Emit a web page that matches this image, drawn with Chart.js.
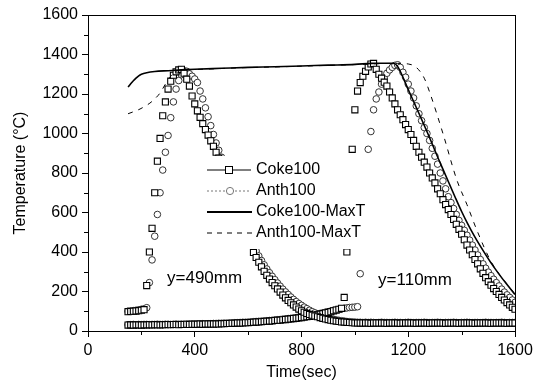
<!DOCTYPE html>
<html>
<head>
<meta charset="utf-8">
<script src="https://cdn.jsdelivr.net/npm/chart.js@4.4.0/dist/chart.umd.min.js"></script>
<style>
  body { margin: 0; background: #fff; }
  canvas { display: block; }
</style>
</head>
<body>
<canvas id="temperaturaGrafico" width="543" height="388"></canvas>
<script>
// tempo das medidas (s), comum aos 4 conjuntos de marcadores
const tempos = [
  150, 160, 170, 180, 190, 200, 210, 220, 230, 240,
  250, 260, 270, 280, 290, 300, 310, 320, 330, 340,
  350, 360, 370, 380, 390, 400, 410, 420, 430, 440,
  450, 460, 470, 480, 490, 500, 510, 520, 530, 540,
  550, 560, 570, 580, 590, 600, 610, 620, 630, 640,
  650, 660, 670, 680, 690, 700, 710, 720, 730, 740,
  750, 760, 770, 780, 790, 800, 810, 820, 830, 840,
  850, 860, 870, 880, 890, 900, 910, 920, 930, 940,
  950, 960, 970, 980, 990, 1000, 1010, 1020, 1030, 1040,
  1050, 1060, 1070, 1080, 1090, 1100, 1110, 1120, 1130, 1140,
  1150, 1160, 1170, 1180, 1190, 1200, 1210, 1220, 1230, 1240,
  1250, 1260, 1270, 1280, 1290, 1300, 1310, 1320, 1330, 1340,
  1350, 1360, 1370, 1380, 1390, 1400, 1410, 1420, 1430, 1440,
  1450, 1460, 1470, 1480, 1490, 1500, 1510, 1520, 1530, 1540,
  1550, 1560, 1570, 1580, 1590, 1600
];

// Coke100, y=490mm
const coke490 = [
  98, 99, 100, 101, 103, 105, 108, 230, 400, 520,
  700, 860, 975, 1090, 1160, 1225, 1265, 1295, 1312, 1322,
  1325, 1305, 1275, 1240, 1190, 1150, 1115, 1082, 1050, 1020,
  992, 963, 935, 905, 875, 840, 805, 770, 735, 700,
  662, 625, 588, 550, 512, 475, 437, 398, 372, 348,
  325, 302, 282, 263, 245, 229, 213, 197, 182, 168,
  155, 143, 132, 121, 111, 102, 95, 89, 84, 80,
  76, 72, 68, 64, 61, 58, 55, 52, 50, 48,
  46, 45, 44, 43, 42, 41, 41, 40, 40, 41,
  40, 39, 40, 40, 41, 40, 40, 39, 40, 41,
  40, 40, 39, 40, 40, 41, 40, 40, 39, 40,
  40, 41, 40, 39, 40, 40, 40, 41, 40, 39,
  40, 40, 41, 40, 39, 40, 40, 40, 41, 40,
  39, 40, 40, 41, 40, 40, 39, 40, 40, 40,
  41, 40, 39, 40, 40, 40
];

// Anth100, y=490mm
const anth490 = [
  100, 101, 103, 105, 107, 110, 112, 118, 245, 360,
  480, 590, 700, 815, 905, 990, 1080, 1160, 1225, 1268,
  1298, 1318, 1315, 1302, 1290, 1276, 1258, 1215, 1175, 1130,
  1085, 1040, 995, 952, 915, 880, 845, 810, 772, 735,
  698, 660, 622, 585, 548, 510, 472, 432, 405, 380,
  357, 335, 314, 295, 277, 260, 243, 227, 212, 198,
  185, 172, 160, 149, 139, 130, 121, 113, 105, 98,
  92, 86, 80, 75, 70, 66, 62, 59, 56, 54,
  52, 50, 48, 47, 46, 45, 44, 44, 43, 44,
  43, 44, 43, 42, 43, 44, 43, 43, 42, 43,
  44, 43, 43, 42, 43, 44, 43, 42, 43, 43,
  43, 44, 43, 42, 43, 43, 44, 43, 42, 43,
  43, 43, 44, 43, 42, 43, 43, 44, 43, 42,
  43, 43, 42, 43, 44, 43, 43, 42, 43, 43,
  44, 43, 42, 43, 43, 43
];

// Coke100, y=110mm
const coke110 = [
  30, 31, 30, 31, 31, 30, 31, 31, 32, 31,
  32, 32, 31, 32, 32, 33, 32, 33, 33, 32,
  33, 33, 34, 33, 34, 34, 34, 35, 34, 35,
  35, 36, 35, 36, 36, 37, 37, 38, 38, 39,
  39, 40, 40, 41, 42, 42, 43, 44, 45, 46,
  47, 48, 49, 50, 51, 53, 54, 55, 57, 58,
  60, 61, 63, 64, 66, 68, 70, 72, 74, 76,
  79, 82, 85, 88, 91, 94, 98, 102, 106, 110,
  115, 170, 400, 690, 920, 1120, 1215, 1258, 1290, 1315,
  1337, 1352, 1355, 1325, 1300, 1280, 1260, 1240, 1210, 1180,
  1150, 1120, 1095, 1070, 1045, 1020, 995, 965, 935, 905,
  880, 855, 830, 800, 775, 750, 720, 695, 665, 640,
  615, 590, 565, 540, 515, 490, 462, 435, 410, 386,
  362, 340, 315, 292, 270, 250, 232, 215, 200, 185,
  170, 157, 144, 132, 120, 110
];

// Anth100, y=110mm
const anth110 = [
  32, 32, 33, 32, 33, 32, 33, 33, 32, 33,
  33, 34, 33, 33, 34, 34, 33, 34, 35, 34,
  35, 34, 35, 35, 36, 35, 36, 36, 37, 36,
  37, 37, 38, 38, 39, 39, 40, 40, 41, 41,
  42, 42, 43, 44, 44, 45, 46, 47, 48, 49,
  50, 51, 52, 53, 54, 56, 57, 58, 60, 61,
  63, 64, 66, 68, 70, 72, 74, 76, 78, 80,
  83, 86, 89, 92, 95, 98, 101, 104, 107, 110,
  112, 115, 117, 119, 120, 121, 123, 290, 560, 800,
  920, 1010, 1120, 1175, 1210, 1250, 1280, 1305, 1322, 1335,
  1345, 1348, 1335, 1310, 1285, 1250, 1215, 1180, 1140, 1100,
  1065, 1030, 1000, 965, 925, 885, 845, 800, 760, 720,
  680, 650, 620, 590, 560, 535, 510, 485, 460, 435,
  410, 385, 362, 340, 318, 298, 280, 262, 245, 228,
  212, 197, 183, 170, 157, 145
];

// temperatura maxima do leito
const cokeMaxTempos = [150, 160, 170, 180, 190, 200, 220, 250, 300, 350, 400, 500, 600, 700, 800, 900, 1000, 1060, 1100, 1145, 1160, 1200, 1270, 1320, 1375, 1400, 1420, 1450, 1480, 1510, 1540, 1570, 1600];
const cokeMaxT = [1235, 1252, 1267, 1280, 1292, 1300, 1308, 1314, 1318, 1322, 1325, 1330, 1335, 1338, 1342, 1346, 1350, 1355, 1356, 1356, 1340, 1222, 1010, 850, 680, 605, 550, 475, 408, 345, 288, 235, 185];

const anthMaxTempos = [150, 170, 195, 232, 250, 270, 290, 310, 330, 350, 400, 500, 600, 700, 800, 900, 1000, 1100, 1160, 1200, 1230, 1260, 1280, 1330, 1382, 1420, 1457, 1506, 1540, 1570, 1600];
const anthMaxT = [1100, 1110, 1124, 1154, 1175, 1205, 1250, 1290, 1315, 1321, 1324, 1329, 1334, 1337, 1341, 1345, 1349, 1354, 1355, 1352, 1335, 1280, 1210, 1000, 765, 640, 511, 362, 290, 238, 188];

const legendaRotulos = ["Coke100", "Anth100", "Coke100-MaxT", "Anth100-MaxT"];
const posicaoRotulos = ["y=490mm", "y=110mm"];

function pontos(xs, ys) {
    return xs.map((x, i) => ({ x: x, y: ys[i] }));
}

const fonte = "'Liberation Sans', Arial, sans-serif";
Chart.defaults.font.family = fonte;
Chart.defaults.color = "#000";

const quadrado = {
    showLine: false,
    pointStyle: "rect",
    pointRadius: 4.3,
    pointBackgroundColor: "#fff",
    pointBorderColor: "#000",
    pointBorderWidth: 1.1
};
const circulo = {
    showLine: false,
    pointStyle: "circle",
    pointRadius: 3.3,
    pointBackgroundColor: "#fff",
    pointBorderColor: "#333",
    pointBorderWidth: 1
};

// legenda com fundo branco, textos y=..., moldura e ticks menores
const desenhos = {
    id: "desenhos",
    afterDatasetsDraw(chart) {
        const ctx = chart.ctx;
        const sx = chart.scales.x, sy = chart.scales.y;
        ctx.save();
        ctx.fillStyle = "#fff";
        ctx.fillRect(200, 156, 172, 93);

        ctx.font = "16px " + fonte;
        ctx.textBaseline = "middle";
        ctx.fillStyle = "#000";
        const ys = [170, 191, 212, 233];
        legendaRotulos.forEach((t, i) => ctx.fillText(t, 256, ys[i]));

        ctx.strokeStyle = "#000";
        ctx.lineWidth = 1;
        ctx.beginPath(); ctx.moveTo(207, ys[0]); ctx.lineTo(251, ys[0]); ctx.stroke();
        ctx.fillStyle = "#fff";
        ctx.fillRect(225.5, ys[0] - 3.5, 7, 7);
        ctx.strokeRect(225.5, ys[0] - 3.5, 7, 7);

        ctx.strokeStyle = "#777";
        ctx.setLineDash([2, 2]);
        ctx.beginPath(); ctx.moveTo(207, ys[1]); ctx.lineTo(251, ys[1]); ctx.stroke();
        ctx.setLineDash([]);
        ctx.beginPath(); ctx.arc(230, ys[1], 3.6, 0, Math.PI * 2); ctx.fill(); ctx.stroke();

        ctx.strokeStyle = "#000";
        ctx.lineWidth = 2;
        ctx.beginPath(); ctx.moveTo(207, ys[2]); ctx.lineTo(252, ys[2]); ctx.stroke();
        ctx.lineWidth = 1;
        ctx.setLineDash([5, 5]);
        ctx.beginPath(); ctx.moveTo(207, ys[3]); ctx.lineTo(252, ys[3]); ctx.stroke();
        ctx.setLineDash([]);

        ctx.fillStyle = "#000";
        ctx.font = "17px " + fonte;
        ctx.fillText(posicaoRotulos[0], sx.getPixelForValue(296), sy.getPixelForValue(268));
        ctx.fillText(posicaoRotulos[1], sx.getPixelForValue(1087), sy.getPixelForValue(258));
        ctx.restore();
    },
    afterDraw(chart) {
        const ctx = chart.ctx;
        const a = chart.chartArea;
        const sx = chart.scales.x, sy = chart.scales.y;
        ctx.save();
        ctx.strokeStyle = "#000";
        ctx.lineWidth = 1;
        ctx.strokeRect(a.left + 0.5, a.top + 0.5, a.right - a.left, a.bottom - a.top);
        ctx.beginPath();
        [200, 600, 1000, 1400].forEach(v => {
            const px = Math.round(sx.getPixelForValue(v)) + 0.5;
            ctx.moveTo(px, a.bottom); ctx.lineTo(px, a.bottom + 4);
        });
        [100, 300, 500, 700, 900, 1100, 1300, 1500].forEach(v => {
            const py = Math.round(sy.getPixelForValue(v)) + 0.5;
            ctx.moveTo(a.left, py); ctx.lineTo(a.left - 4, py);
        });
        ctx.stroke();
        ctx.restore();
    }
};

new Chart(document.getElementById("temperaturaGrafico"), {
    type: "scatter",
    data: {
        datasets: [
            { label: "Coke100-MaxT", data: pontos(cokeMaxTempos, cokeMaxT), showLine: true, borderColor: "#000", borderWidth: 1.6, pointRadius: 0, cubicInterpolationMode: "monotone" },
            { label: "Anth100-MaxT", data: pontos(anthMaxTempos, anthMaxT), showLine: true, borderColor: "#000", borderWidth: 1, borderDash: [5, 6], pointRadius: 0, cubicInterpolationMode: "monotone" },
            Object.assign({ label: "Coke100 y=490mm", data: pontos(tempos, coke490) }, quadrado),
            Object.assign({ label: "Coke100 y=110mm", data: pontos(tempos, coke110) }, quadrado),
            Object.assign({ label: "Anth100 y=490mm", data: pontos(tempos, anth490) }, circulo),
            Object.assign({ label: "Anth100 y=110mm", data: pontos(tempos, anth110) }, circulo)
        ]
    },
    options: {
        responsive: false,
        animation: false,
        devicePixelRatio: 1,
        layout: { padding: { left: 0, top: 15, right: 28, bottom: 0 } },
        scales: {
            x: {
                type: "linear",
                min: 0,
                max: 1600,
                ticks: { stepSize: 400, font: { size: 16 }, padding: 4, color: "#000", callback: v => String(v) },
                grid: { drawOnChartArea: false, tickLength: 6, tickColor: "#000" },
                border: { color: "#000" },
                title: { display: true, text: "Time(sec)", font: { size: 16 }, padding: { top: 0, bottom: 6 } },
                afterFit(s) { s.height = 57; }
            },
            y: {
                min: 0,
                max: 1600,
                ticks: { stepSize: 200, font: { size: 16 }, padding: 4, color: "#000", callback: v => String(v) },
                grid: { drawOnChartArea: false, tickLength: 6, tickColor: "#000" },
                border: { color: "#000" },
                title: { display: true, text: "Temperature (°C)", font: { size: 16 }, padding: { top: 11, bottom: 0 } },
                afterFit(s) { s.width = 88; }
            }
        },
        plugins: {
            legend: { display: false },
            tooltip: { enabled: false }
        }
    },
    plugins: [desenhos]
});
</script>
</body>
</html>
